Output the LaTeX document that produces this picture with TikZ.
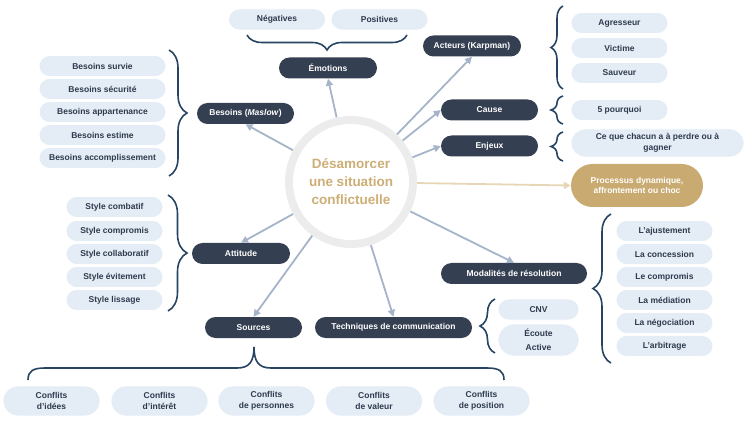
\documentclass[tikz,border=0pt]{standalone}
\usepackage{fontspec}
\setmainfont{Liberation Sans}
\usetikzlibrary{decorations.pathreplacing,arrows.meta}
\definecolor{darkn}{HTML}{343F51}
\definecolor{lightb}{HTML}{E4ECF5}
\definecolor{navy}{HTML}{2E3B4E}
\definecolor{bracec}{HTML}{274462}
\definecolor{arrc}{HTML}{A5B4C8}
\definecolor{goldc}{HTML}{C9AA71}
\definecolor{goldt}{HTML}{CDAE76}
\definecolor{goldl}{HTML}{E6D6B6}
\definecolor{ringc}{HTML}{ECECEC}
\begin{document}
\begin{tikzpicture}[x=1pt,y=-1pt,
  base/.style={rectangle, rounded corners=10.5pt, minimum height=21pt, inner sep=0pt, align=center, font=\fontsize{8.5}{10.5}\selectfont\bfseries},
  mainbox/.style={base, fill=darkn, text=white},
  leaf/.style={base, fill=lightb, text=navy, draw=white, line width=0.8pt},
  arr/.style={draw=arrc, line width=1.8pt, -{Triangle[length=7pt,width=7pt]}},
  garr/.style={draw=goldl, line width=1.8pt, -{Triangle[length=7pt,width=7pt]}},
  br/.style={draw=bracec, line width=1.6pt, decorate, decoration={brace, amplitude=#1}},
]
\useasboundingbox (0,0) rectangle (750,422);

% centre
\node[circle, fill=ringc, minimum size=132pt, inner sep=0pt] (c) at (351,182) {};
\fill[white] (c.center) circle (58);
\node[text=goldt, font=\fontsize{13.5}{18}\selectfont\bfseries, align=center] (ct) at (351,182) {Désamorcer\\une situation\\conflictuelle};

% main nodes
\node[mainbox, minimum width=98pt] (emo) at (328,68) {Émotions};
\node[mainbox, minimum width=97pt] (bes) at (245.5,113.5) {Besoins (\textit{Maslow})};
\node[mainbox, minimum width=98pt] (act) at (472,46) {Acteurs (Karpman)};
\node[mainbox, minimum width=97pt] (cau) at (489.5,110) {Cause};
\node[mainbox, minimum width=97pt] (enj) at (489.5,146) {Enjeux};
\node[mainbox, minimum width=146pt] (mod) at (514,273.5) {Modalités de résolution};
\node[mainbox, minimum width=157pt] (tec) at (393.5,327.5) {Techniques de communication};
\node[mainbox, minimum width=98pt] (att) at (241,253.5) {Attitude};
\node[mainbox, minimum width=97pt] (src) at (253.5,327.5) {Sources};
\node[base, fill=goldc, text=white, minimum width=132pt, minimum height=43pt, rounded corners=21.5pt] (proc) at (637,185.5) {Processus dynamique,\\affrontement ou choc};

% arrows
\draw[arr] (c) -- (emo.south);
\draw[arr] (c) -- (bes.south);
\draw[arr] (c) -- (act.south);
\draw[arr] (c) -- (cau.west);
\draw[arr] (c) -- (enj.west);
\draw[arr] (c) -- (mod.north);
\draw[arr] (c) -- (tec.north);
\draw[arr] (c) -- (src.north);
\draw[arr] (c) -- (att.north);
\draw[garr] (c) -- (proc.west);

% emotions
\node[leaf, minimum width=97pt] (neg) at (277,19.5) {Négatives};
\node[leaf, minimum width=97pt] (pos) at (379.5,19.5) {Positives};
\draw[br=15] (407,35) -- (247,35);

% besoins
\node[leaf, minimum width=127pt] (b1) at (102.5,66) {Besoins survie};
\node[leaf, minimum width=127pt] (b2) at (102.5,89) {Besoins sécurité};
\node[leaf, minimum width=127pt] (b3) at (102.5,112) {Besoins appartenance};
\node[leaf, minimum width=127pt] (b4) at (102.5,135) {Besoins estime};
\node[leaf, minimum width=127pt] (b5) at (102.5,158) {Besoins accomplissement};
\draw[br=18] (169,50) -- (169,176);

% acteurs
\node[leaf, minimum width=97pt] (a1) at (619.5,23) {Agresseur};
\node[leaf, minimum width=97pt] (a2) at (619.5,48) {Victime};
\node[leaf, minimum width=97pt] (a3) at (619.5,73) {Sauveur};
\draw[br=12] (563,89) -- (563,6);

% cause / enjeux
\node[leaf, minimum width=97pt] (p5) at (619.5,110) {5 pourquoi};
\draw[br=12] (563,124) -- (563,96);
\node[leaf, minimum width=173pt, minimum height=28pt, rounded corners=14pt] (cq) at (657.5,143) {Ce que chacun a à perdre ou à\\gagner};
\draw[br=12] (563,161) -- (563,132);

% modalites
\node[leaf, minimum width=97pt] (m1) at (664.5,231) {L'ajustement};
\node[leaf, minimum width=97pt] (m2) at (664.5,254) {La concession};
\node[leaf, minimum width=97pt] (m3) at (664.5,277) {Le compromis};
\node[leaf, minimum width=97pt] (m4) at (664.5,300) {La médiation};
\node[leaf, minimum width=97pt] (m5) at (664.5,323) {La négociation};
\node[leaf, minimum width=97pt] (m6) at (664.5,346) {L'arbitrage};
\draw[br=18] (611,363) -- (611,214);

% techniques
\node[leaf, minimum width=81pt] (cnv) at (538.5,309.5) {CNV};
\node[leaf, minimum width=81pt, minimum height=32pt, rounded corners=16pt, font=\fontsize{8.5}{13.5}\selectfont\bfseries] (eco) at (538.5,340) {Écoute\\Active};
\draw[br=15] (495,353) -- (495,299);

% attitude
\node[leaf, minimum width=97pt] (s1) at (114.5,207) {Style combatif};
\node[leaf, minimum width=97pt] (s2) at (114.5,231) {Style compromis};
\node[leaf, minimum width=97pt] (s3) at (114.5,254) {Style collaboratif};
\node[leaf, minimum width=97pt] (s4) at (114.5,277) {Style évitement};
\node[leaf, minimum width=97pt] (s5) at (114.5,300) {Style lissage};
\draw[br=19] (168,195) -- (168,311);

% sources
\node[leaf, minimum width=97pt, minimum height=30pt, rounded corners=15pt] (k1) at (51.5,401) {Conflits\\d'idées};
\node[leaf, minimum width=97pt, minimum height=30pt, rounded corners=15pt] (k2) at (159.5,401) {Conflits\\d'intérêt};
\node[leaf, minimum width=97pt, minimum height=30pt, rounded corners=15pt] (k3) at (266.5,401) {Conflits\\de personnes};
\node[leaf, minimum width=97pt, minimum height=30pt, rounded corners=15pt] (k4) at (374,401) {Conflits\\de valeur};
\node[leaf, minimum width=97pt, minimum height=30pt, rounded corners=15pt] (k5) at (481.5,401) {Conflits\\de position};
\draw[bracec, line width=1.6pt] (28,380) .. controls (28,371) and (33,368) .. (45,368) -- (237,368) .. controls (249,368) and (254,362) .. (254,347) .. controls (254,362) and (259,368) .. (271,368) -- (487,368) .. controls (499,368) and (504,371) .. (504,380);
\end{tikzpicture}
\end{document}
